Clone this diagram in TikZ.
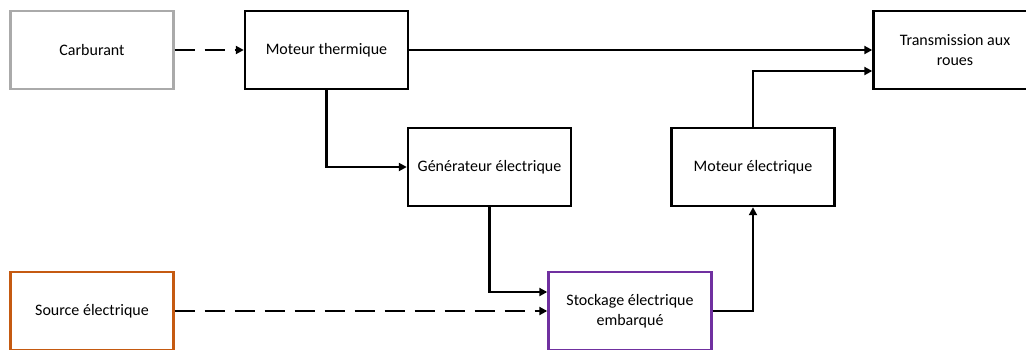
\documentclass[tikz,border=0pt]{standalone}
\usepackage{fontspec}
\setmainfont{Carlito}
\usetikzlibrary{arrows.meta}
\definecolor{boxgray}{RGB}{170,170,170}
\definecolor{boxorange}{RGB}{197,90,17}
\definecolor{boxpurple}{RGB}{112,48,160}
\begin{document}
\begin{tikzpicture}[x=1pt, y=-1pt,
  bloc/.style={draw, line width=2.4pt, minimum width=163pt, minimum height=78pt, align=center, font=\fontsize{16}{20}\selectfont},
  fleche/.style={line width=2.4pt, -{Triangle[length=8pt,width=8pt]}},
  pointille/.style={fleche, dash pattern=on 20pt off 10pt}]
% Set the frame
\useasboundingbox (0,0) rectangle (1026,349);
\clip (0,0) rectangle (1026,349);

% Draw the blocks
\node[bloc, draw=boxgray] (carb) at (92,50) {Carburant};
\node[bloc] (mth) at (326.5,50) {Moteur thermique};
\node[bloc] (trans) at (955,50) {Transmission aux\\roues};
\node[bloc] (gen) at (489.5,167) {Générateur électrique};
\node[bloc] (mel) at (753,167) {Moteur électrique};
\node[bloc, draw=boxorange] (src) at (92,311) {Source électrique};
\node[bloc, draw=boxpurple] (stock) at (630,311) {Stockage électrique\\embarqué};

% Draw the links
\draw[pointille] (carb.east) -- (mth.west);
\draw[fleche] (mth.east) -- (trans.west);
\draw[fleche] (mth.south) |- (gen.west);
\draw[fleche] (gen.south) |- ([yshift=19pt]stock.west);
\draw[pointille] (src.east) -- (stock.west);
\draw[fleche] (stock.east) -| (mel.south);
\draw[fleche] (mel.north) |- ([yshift=-21pt]trans.west);
\end{tikzpicture}
\end{document}
